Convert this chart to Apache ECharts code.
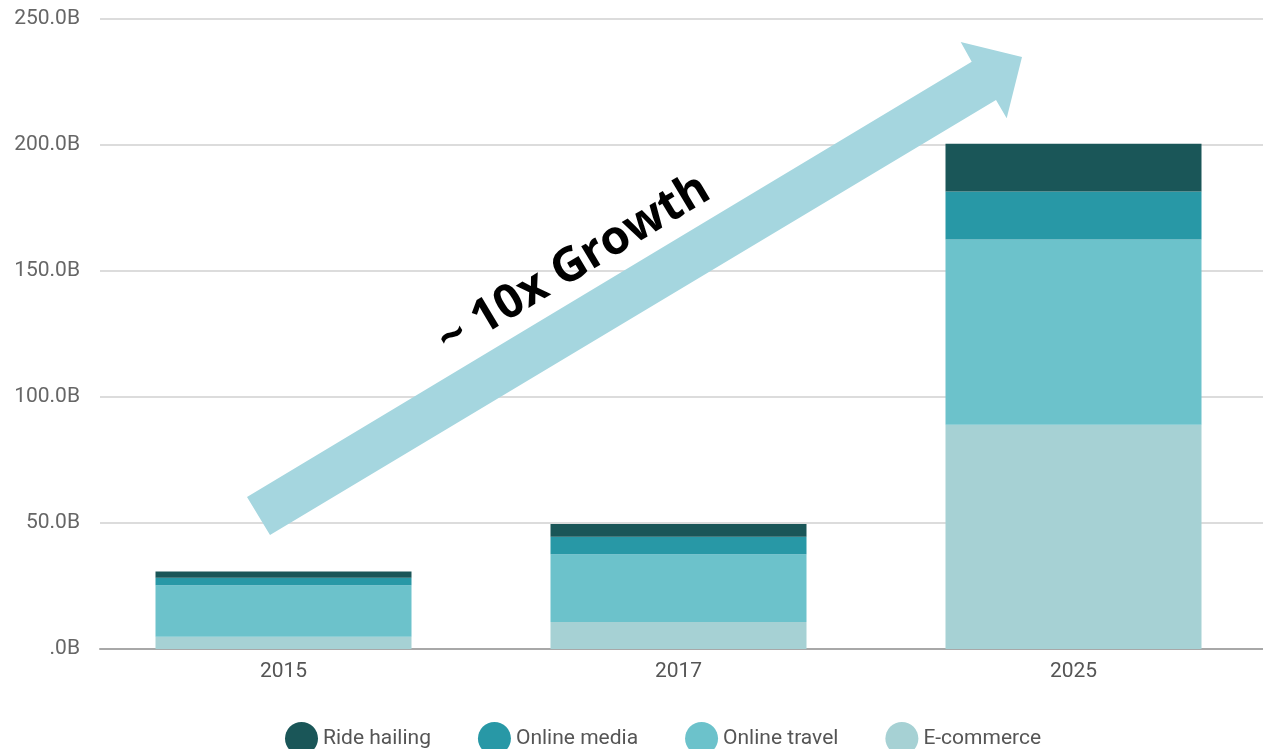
<!DOCTYPE html>
<html>
<head>
<meta charset="utf-8">
<script src="https://cdn.jsdelivr.net/npm/echarts@6/dist/echarts.min.js"></script>
<style>
  html, body { margin: 0; padding: 0; background: #fff; overflow: hidden; }
  /* a little wider than the window: the last category runs past the right edge */
  #chart { width: 1271px; height: 749px; }
</style>
</head>
<body>
<div id="chart"></div>
<script>
// years on the x axis
var years = ["2015", "2017", "2025"];
// stacked segments, bottom to top (billions)
var eCommerce = [4.9, 10.7, 89];
var onlineTravel = [20.4, 26.9, 73.5];
var onlineMedia = [3.0, 6.9, 19];
var rideHailing = [2.5, 5.1, 19];
var yTicks = [0, 50, 100, 150, 200, 250];
var legendOrder = ["Ride hailing", "Online media", "Online travel", "E-commerce"];

var colors = {
  "Ride hailing": "#1a5658",
  "Online media": "#2898a6",
  "Online travel": "#6cc2cb",
  "E-commerce": "#a6d1d4"
};

var chart = echarts.init(document.getElementById("chart"));

function barSeries(name, values) {
  return {
    name: name,
    type: "bar",
    stack: "total",
    xAxisIndex: 1,
    yAxisIndex: 1,
    barWidth: 256,
    itemStyle: { color: colors[name] },
    data: values
  };
}

var option = {
  animation: false,
  textStyle: { fontFamily: "Roboto, sans-serif" },
  grid: [
    // grid for gridlines and y labels
    { left: 100, right: 0, top: 19, bottom: 100 },
    // grid for bars
    { left: 86, right: 0, top: 19, bottom: 100 }
  ],
  legend: {
    data: legendOrder,
    top: 717,
    left: 280,
    icon: "circle",
    itemWidth: 33,
    itemHeight: 33,
    itemGap: 47,
    textStyle: { fontSize: 21, color: "#555", fontFamily: "Roboto" }
  },
  xAxis: [
    {
      gridIndex: 0,
      type: "category",
      data: years,
      axisLine: { show: true, lineStyle: { color: "#a8a8a8", width: 2 } },
      axisTick: { show: false },
      axisLabel: { show: false }
    },
    {
      gridIndex: 1,
      type: "category",
      data: years,
      axisLine: { show: false },
      axisTick: { show: false },
      axisLabel: { margin: 12, fontSize: 21, color: "#555" }
    }
  ],
  yAxis: [
    {
      gridIndex: 0,
      type: "value",
      min: yTicks[0],
      max: yTicks[yTicks.length - 1],
      interval: 50,
      axisLine: { show: false },
      axisTick: { show: false },
      splitLine: { lineStyle: { color: "#d0d0d0", width: 1.5 } },
      axisLabel: {
        margin: 20,
        fontSize: 21,
        color: "#666",
        formatter: function (v) {
          return v === 0 ? ".0B" : v.toFixed(1) + "B";
        }
      }
    },
    {
      gridIndex: 1,
      type: "value",
      min: yTicks[0],
      max: yTicks[yTicks.length - 1],
      show: false
    }
  ],
  series: [
    barSeries("E-commerce", eCommerce),
    barSeries("Online travel", onlineTravel),
    barSeries("Online media", onlineMedia),
    barSeries("Ride hailing", rideHailing)
  ],
  graphic: [
    {
      type: "polygon",
      z: 100,
      shape: {
        points: [
          [270, 535], [247, 497], [971.7, 61.7], [960.7, 42],
          [1022, 57], [1006.7, 118.3], [996, 100]
        ]
      },
      style: { fill: "#a5d6df" }
    },
    {
      type: "text",
      z: 101,
      x: 574,
      y: 265,
      rotation: 31 * Math.PI / 180,
      style: {
        text: "~ 10x Growth",
        font: "bold 47px 'Open Sans'",
        fill: "#000",
        align: "center",
        verticalAlign: "middle"
      }
    }
  ]
};

chart.setOption(option);
</script>
</body>
</html>
